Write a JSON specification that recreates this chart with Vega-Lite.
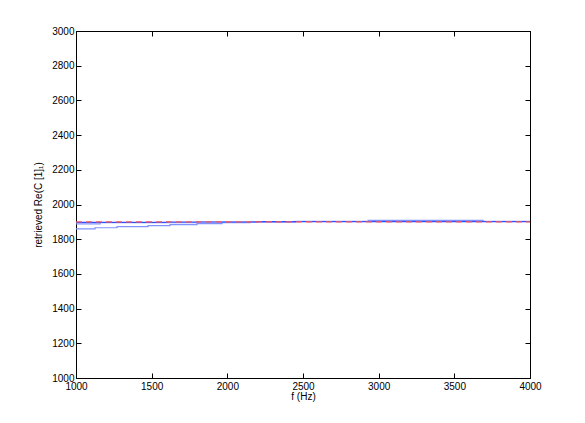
{
  "$schema": "https://vega.github.io/schema/vega-lite/v6.json",
  "autosize": "none",
  "width": 454,
  "height": 347,
  "padding": {"left": 76, "top": 31, "right": 55, "bottom": 45},
  "background": "white",
  "config": {
    "font": "Liberation Sans",
    "view": {"stroke": "#000", "strokeWidth": 1},
    "axis": {"grid": false, "domainColor": "#000", "tickColor": "#000", "labelColor": "#000", "titleColor": "#000", "labelFontSize": 10, "titleFontSize": 10, "titleFontWeight": "normal", "tickSize": -5, "labelPadding": 7, "labelFlush": false, "labelOverlap": false}
  },
  "data": {"values": [
    {"f": 1000, "v": 1860, "s": "b_light2"},
    {"f": 1126, "v": 1866, "s": "b_light2"},
    {"f": 1271, "v": 1872, "s": "b_light2"},
    {"f": 1476, "v": 1878, "s": "b_light2"},
    {"f": 1621, "v": 1884, "s": "b_light2"},
    {"f": 1800, "v": 1890, "s": "b_light2"},
    {"f": 1965, "v": 1895, "s": "b_light2"},
    {"f": 2150, "v": 1900, "s": "b_light2"},
    {"f": 2450, "v": 1903, "s": "b_light2"},
    {"f": 2930, "v": 1909, "s": "b_light2"},
    {"f": 3690, "v": 1903, "s": "b_light2"},
    {"f": 4000, "v": 1903, "s": "b_light2"},
    {"f": 1000, "v": 1888, "s": "b_light1"},
    {"f": 1160, "v": 1896, "s": "b_light1"},
    {"f": 1800, "v": 1899, "s": "b_light1"},
    {"f": 2450, "v": 1902, "s": "b_light1"},
    {"f": 4000, "v": 1902, "s": "b_light1"},
    {"f": 1000, "v": 1897, "s": "c_dark"},
    {"f": 1600, "v": 1899, "s": "c_dark"},
    {"f": 2200, "v": 1901, "s": "c_dark"},
    {"f": 4000, "v": 1901, "s": "c_dark"},
    {"f": 1000, "v": 1900, "s": "d_ref"},
    {"f": 4000, "v": 1900, "s": "d_ref"}
  ]},
  "layer": [
    {
      "mark": {"type": "line", "interpolate": "step-after", "strokeWidth": 1.2},
      "encoding": {
        "x": {"field": "f", "type": "quantitative", "scale": {"domain": [1000, 4000], "nice": false}, "axis": {"values": [1000, 1500, 2000, 2500, 3000, 3500, 4000], "title": "f (Hz)", "titlePadding": 0, "labelPadding": 8, "format": "d"}},
        "y": {"field": "v", "type": "quantitative", "scale": {"domain": [1000, 3000], "nice": false, "zero": false}, "axis": {"values": [1000, 1200, 1400, 1600, 1800, 2000, 2200, 2400, 2600, 2800, 3000], "title": "retrieved Re(C [1]₁)", "titlePadding": 8, "format": "d"}},
        "detail": {"field": "s"},
        "color": {"field": "s", "type": "nominal", "scale": {"domain": ["b_light2", "b_light1", "c_dark", "d_ref"], "range": ["#7f92ff", "#7f92ff", "#3050ff", "#ff5a5a"]}, "legend": null},
        "strokeDash": {"field": "s", "type": "nominal", "scale": {"domain": ["b_light2", "b_light1", "c_dark", "d_ref"], "range": [[1, 0], [1, 0], [1, 0], [6, 4]]}, "legend": null}
      }
    },
    {
      "mark": {"type": "line", "opacity": 0},
      "encoding": {
        "x": {"field": "f", "type": "quantitative", "scale": {"domain": [1000, 4000], "nice": false}, "axis": {"orient": "top", "values": [1000, 1500, 2000, 2500, 3000, 3500, 4000], "labels": false, "title": null}},
        "y": {"field": "v", "type": "quantitative", "scale": {"domain": [1000, 3000], "nice": false, "zero": false}, "axis": {"orient": "right", "values": [1000, 1200, 1400, 1600, 1800, 2000, 2200, 2400, 2600, 2800, 3000], "labels": false, "title": null}},
        "detail": {"field": "s"}
      }
    }
  ],
  "resolve": {"axis": {"x": "independent", "y": "independent"}}
}
